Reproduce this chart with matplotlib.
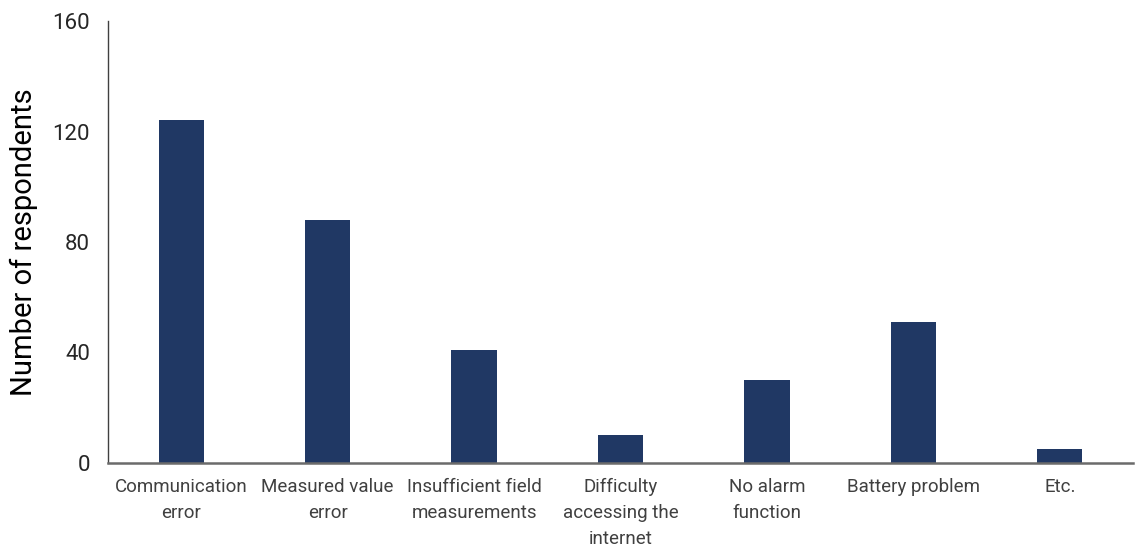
import matplotlib
matplotlib.use("Agg")
import matplotlib.pyplot as plt

categories = [
    "Communication\nerror",
    "Measured value\nerror",
    "Insufficient field\nmeasurements",
    "Difficulty\naccessing the\ninternet",
    "No alarm\nfunction",
    "Battery problem",
    "Etc.",
]
respondents = [124, 88, 41, 10, 30, 51, 5]
y_ticks = [0, 40, 80, 120, 160]

plt.rcParams["font.family"] = ["Roboto", "DejaVu Sans"]

fig = plt.figure(figsize=(11.35, 5.5), dpi=100)
ax = fig.add_axes([108 / 1135, 1 - 463 / 550, (1133 - 108) / 1135, (463 - 21) / 550])

x = list(range(len(categories)))
ax.bar(x, respondents, width=0.31, color="#203864", zorder=2)

ax.set_xlim(-0.5, len(categories) - 0.5)
ax.set_ylim(0, 160)
ax.set_yticks(y_ticks)
ax.set_yticklabels([str(v) for v in y_ticks], fontsize=16, color="#262626")
ax.set_xticks(x)
ax.set_xticklabels(categories, fontsize=13.5, color="#404040", linespacing=1.55, va="top")

ax.tick_params(axis="both", length=0)
ax.tick_params(axis="x", pad=11)
ax.tick_params(axis="y", pad=13)

for side in ("top", "right"):
    ax.spines[side].set_visible(False)
ax.spines["left"].set_color("#404040")
ax.spines["left"].set_linewidth(1.0)
ax.spines["bottom"].set_color("#6b6b6b")
ax.spines["bottom"].set_linewidth(1.8)

ax.set_ylabel("Number of respondents", fontsize=21, color="black", labelpad=10)

fig.savefig("out.png", dpi=100)
